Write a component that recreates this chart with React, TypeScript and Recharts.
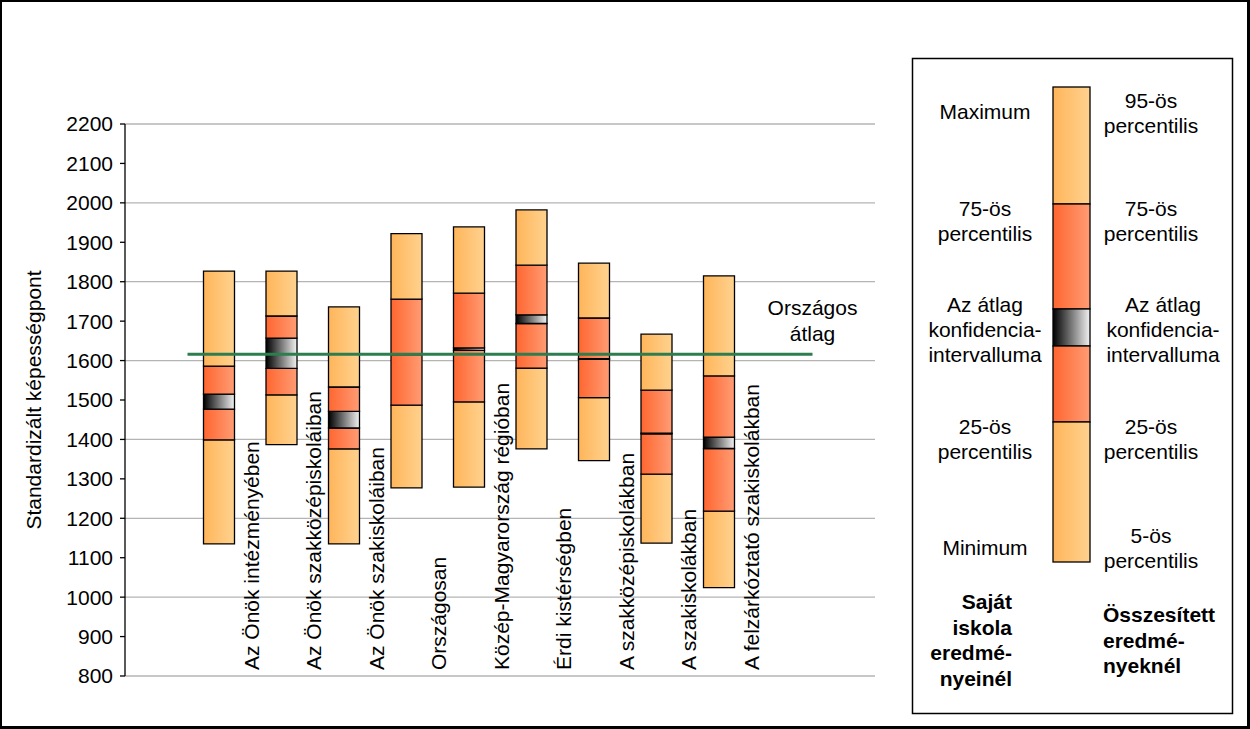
import React from "react";
import {
  Bar,
  CartesianGrid,
  ComposedChart,
  Legend,
  ReferenceLine,
  XAxis,
  YAxis,
} from "recharts";

// groups shown on the x axis (one empty slot before, two after)
const groups = [
  "Az Önök intézményében",
  "Az Önök szakközépiskoláiban",
  "Az Önök szakiskoláiban",
  "Országosan",
  "Közép-Magyarország régióban",
  "Érdi kistérségben",
  "A szakközépiskolákban",
  "A szakiskolákban",
  "A felzárkóztató szakiskolákban",
];
const minimum = [1135, 1387, 1135, 1277, 1279, 1376, 1346, 1137, 1024];
const p25 = [1399, 1513, 1376, 1487, 1495, 1581, 1506, 1312, 1218];
const ciLow = [1477, 1580, 1429, 1615, 1626, 1694, 1603, 1414, 1377];
const ciHigh = [1515, 1657, 1471, 1617, 1632, 1716, 1605, 1416, 1406];
const p75 = [1586, 1713, 1533, 1756, 1771, 1842, 1708, 1525, 1561];
const maximum = [1827, 1827, 1736, 1922, 1939, 1982, 1847, 1667, 1815];

const nationalAvg = 1616;
const yTicks = [800, 900, 1000, 1100, 1200, 1300, 1400, 1500, 1600, 1700, 1800, 1900, 2000, 2100, 2200];
const gridValues = [800, 1000, 1200, 1400, 1600, 1800, 2000, 2200];
const minorTicks = Array.from({ length: 71 }, (_, i) => 800 + i * 20);

const leftLegend = [
  ["Maximum"],
  ["75-ös", "percentilis"],
  ["Az átlag", "konfidencia-", "intervalluma"],
  ["25-ös", "percentilis"],
  ["Minimum"],
];
const rightLegend = [
  ["95-ös", "percentilis"],
  ["75-ös", "percentilis"],
  ["Az átlag", "konfidencia-", "intervalluma"],
  ["25-ös", "percentilis"],
  ["5-ös", "percentilis"],
];
const ownTitle = ["Saját", "iskola", "eredmé-", "nyeinél"];
const allTitle = ["Összesített", "eredmé-", "nyeknél"];

const SLOTS_BEFORE = 1;
const SLOTS_AFTER = 2;
const W = 1250;
const H = 729;
const PLOT_LEFT = 125;
const PLOT_RIGHT = 875;
const SLOT_COUNT = groups.length + SLOTS_BEFORE + SLOTS_AFTER;
const BAND = (PLOT_RIGHT - PLOT_LEFT) / SLOT_COUNT;
const FONT = "'Liberation Sans', Arial, sans-serif";

const table = [
  ...Array.from({ length: SLOTS_BEFORE }, (_, i) => ({ name: `pre${i}` })),
  ...groups.map((name, i) => ({
    name,
    base: minimum[i],
    low: p25[i] - minimum[i],
    lowMid: ciLow[i] - p25[i],
    ci: ciHigh[i] - ciLow[i],
    highMid: p75[i] - ciHigh[i],
    high: maximum[i] - p75[i],
  })),
  ...Array.from({ length: SLOTS_AFTER }, (_, i) => ({ name: `post${i}` })),
];

function CategoryTick(props: any) {
  const { x, y, payload } = props;
  if (!groups.includes(payload.value)) return <g />;
  const tx = x + BAND / 2 + 1;
  const ty = y - 6;
  return (
    <text
      x={tx}
      y={ty}
      transform={`rotate(-90 ${tx} ${ty})`}
      textAnchor="start"
      dominantBaseline="central"
      fontSize={21}
      fontFamily={FONT}
      fill="#000"
    >
      {payload.value}
    </text>
  );
}

// the average line spans whole category bands, not band centres
function AvgLine(props: any) {
  const { x1, y1, x2, y2 } = props;
  return (
    <line
      x1={x1 - BAND / 2}
      y1={y1}
      x2={x2 + BAND / 2}
      y2={y2}
      stroke="#2E7D4F"
      strokeWidth={3}
    />
  );
}

function AvgLabel(props: any) {
  const { viewBox } = props;
  const cx = viewBox.x + viewBox.width + BAND / 2;
  return (
    <text x={cx} y={viewBox.y - 47} textAnchor="middle" fontSize={21} fontFamily={FONT} fill="#000" dominantBaseline="central">
      <tspan x={cx}>Országos</tspan>
      <tspan x={cx} dy={26}>átlag</tspan>
    </text>
  );
}

function YTitle(props: any) {
  const { viewBox } = props;
  const cy = viewBox.y + viewBox.height / 2;
  return (
    <text
      x={33}
      y={cy}
      transform={`rotate(-90 33 ${cy})`}
      textAnchor="middle"
      dominantBaseline="central"
      fontSize={21}
      fontFamily={FONT}
      fill="#000"
    >
      Standardizált képességpont
    </text>
  );
}

// legend key bar: segment edges in px, fill per segment
const KEY_X = 1053;
const KEY_W = 37;
const keyEdges = [87, 204, 309, 346, 422, 562];
const keyFills = ["url(#lgLight)", "url(#lgMid)", "url(#lgCi)", "url(#lgMid)", "url(#lgLight)"];
const leftCentres = [111, 220.5, 329, 438.5, 547];
const rightCentres = [112.5, 220.5, 329, 438.5, 547.5];
const rightX = [1151, 1151, 1163, 1151, 1151];

function Gradients({ prefix }: { prefix: string }) {
  return (
    <defs>
      <linearGradient id={`${prefix}Light`} x1="0" y1="0" x2="1" y2="0">
        <stop offset="0%" stopColor="#FFB55A" />
        <stop offset="100%" stopColor="#FFD28F" />
      </linearGradient>
      <linearGradient id={`${prefix}Mid`} x1="0" y1="0" x2="1" y2="0">
        <stop offset="0%" stopColor="#FF6630" />
        <stop offset="100%" stopColor="#FF9C74" />
      </linearGradient>
      <linearGradient id={`${prefix}Ci`} x1="0" y1="0" x2="1" y2="0">
        <stop offset="0%" stopColor="#000000" />
        <stop offset="100%" stopColor="#F2F2F2" />
      </linearGradient>
    </defs>
  );
}

function textBlock(lines: string[], cx: number, cy: number, anchor: "middle" | "end" | "start", step: number, bold = false) {
  const top = cy - ((lines.length - 1) * step) / 2;
  return lines.map((t, i) => (
    <text
      key={t + i}
      x={cx}
      y={top + i * step}
      textAnchor={anchor}
      dominantBaseline="central"
      fontSize={21}
      fontWeight={bold ? "bold" : "normal"}
      fontFamily={FONT}
      fill="#000"
    >
      {t}
    </text>
  ));
}

function LegendPanel() {
  return (
    <svg width={W} height={H} style={{ position: "absolute", left: 0, top: 0 }}>
      <Gradients prefix="lg" />
      <rect x={0} y={0} width={W} height={2} fill="#000" />
      <rect x={0} y={0} width={2} height={H} fill="#000" />
      <rect x={W - 3} y={0} width={3} height={H} fill="#000" />
      <rect x={0} y={H - 3} width={W} height={3} fill="#000" />
      <rect x={912.5} y={58.5} width={320} height={655} fill="none" stroke="#000" strokeWidth={1.5} />
      {keyFills.map((f, i) => (
        <rect
          key={i}
          x={KEY_X}
          y={keyEdges[i]}
          width={KEY_W}
          height={keyEdges[i + 1] - keyEdges[i]}
          fill={f}
          stroke="#000"
          strokeWidth={1.3}
        />
      ))}
      {leftLegend.map((lines, i) => textBlock(lines, 985, leftCentres[i], "middle", 25))}
      {rightLegend.map((lines, i) => textBlock(lines, rightX[i], rightCentres[i], "middle", 25))}
      {textBlock(ownTitle, 1012, 640, "end", 25.5, true)}
      {textBlock(allTitle, 1103, 640, "start", 25.5, true)}
    </svg>
  );
}

export default function App() {
  return (
    <div style={{ width: W, height: H, position: "relative", background: "#fff" }}>
      <style>{"body{margin:0}"}</style>
      <ComposedChart
        width={W}
        height={H}
        data={table}
        margin={{ top: 124, right: W - PLOT_RIGHT, bottom: 0, left: 0 }}
        barGap={0}
      >
        <Gradients prefix="g" />
        <CartesianGrid horizontal vertical={false} horizontalValues={gridValues} stroke="#b4b4b4" strokeWidth={1.3} />
        <XAxis
          dataKey="name"
          type="category"
          interval={0}
          height={53}
          tickLine={false}
          axisLine={false}
          tickSize={0}
          tickMargin={0}
          tick={<CategoryTick />}
        />
        <YAxis
          type="number"
          domain={[800, 2200]}
          ticks={yTicks}
          allowDataOverflow
          width={PLOT_LEFT}
          tickSize={5}
          tickMargin={7}
          axisLine={{ stroke: "#000", strokeWidth: 1.3 }}
          tickLine={{ stroke: "#000", strokeWidth: 1.3 }}
          tick={{ fontSize: 21, fontFamily: FONT, fill: "#000" }}
          label={{ content: <YTitle /> } as any}
        />
        <YAxis
          yAxisId="minor"
          type="number"
          domain={[800, 2200]}
          ticks={minorTicks}
          allowDataOverflow
          width={0}
          tickSize={3}
          axisLine={false}
          tick={false}
          tickLine={{ stroke: "#000", strokeWidth: 1.2 }}
        />
        <Bar dataKey="base" stackId="s" fill="transparent" barSize={31} isAnimationActive={false} />
        <Bar dataKey="low" stackId="s" fill="url(#gLight)" stroke="#000" strokeWidth={1.3} barSize={31} isAnimationActive={false} />
        <Bar dataKey="lowMid" stackId="s" fill="url(#gMid)" stroke="#000" strokeWidth={1.3} barSize={31} isAnimationActive={false} />
        <Bar dataKey="ci" stackId="s" fill="url(#gCi)" stroke="#000" strokeWidth={1.3} barSize={31} isAnimationActive={false} />
        <Bar dataKey="highMid" stackId="s" fill="url(#gMid)" stroke="#000" strokeWidth={1.3} barSize={31} isAnimationActive={false} />
        <Bar dataKey="high" stackId="s" fill="url(#gLight)" stroke="#000" strokeWidth={1.3} barSize={31} isAnimationActive={false} />
        <ReferenceLine
          segment={[
            { x: groups[0], y: nationalAvg },
            { x: table[SLOTS_BEFORE + groups.length].name, y: nationalAvg },
          ]}
          stroke="#2E7D4F"
          strokeWidth={3}
          shape={AvgLine}
          label={<AvgLabel />}
        />
        <Legend
          layout="horizontal"
          verticalAlign="middle"
          align="center"
          content={<LegendPanel />}
          wrapperStyle={{ left: 0, top: 0, width: W, height: H, pointerEvents: "none" }}
        />
      </ComposedChart>
    </div>
  );
}
